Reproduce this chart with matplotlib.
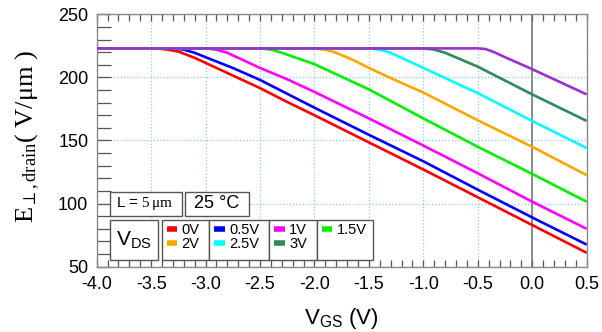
import matplotlib
matplotlib.use('Agg')
import matplotlib.pyplot as plt
from matplotlib.patches import Rectangle
from matplotlib.ticker import MultipleLocator, FormatStrFormatter

plt.rcParams['font.family'] = ['Liberation Sans', 'DejaVu Sans']
plt.rcParams['mathtext.fontset'] = 'custom'
plt.rcParams['mathtext.rm'] = 'Liberation Serif'
plt.rcParams['mathtext.it'] = 'Liberation Serif:italic'
plt.rcParams['mathtext.bf'] = 'Liberation Serif:bold'
plt.rcParams['mathtext.sf'] = 'Liberation Sans'
plt.rcParams['axes.unicode_minus'] = False

# ---------------- data ----------------
vgs_0v = [-4.0, -3.45, -3.35, -3.25, -3.1, -3.0, -2.75, -2.5, -2.25, -2.0, -1.5, -1.0, -0.5, 0.0, 0.5]
e_0v   = [223, 223, 222, 220.5, 215.5, 211.5, 201.5, 191.5, 180.5, 170, 148.5, 127, 105, 83, 61]

vgs_0p5v = [-4.0, -3.3, -3.2, -3.1, -3.0, -2.75, -2.5, -2.25, -2.0, -1.5, -1.0, -0.5, 0.0, 0.5]
e_0p5v   = [223, 223, 222, 219.5, 216, 207.5, 198, 187, 176, 154.5, 133.5, 111, 89, 67.5]

vgs_1v = [-4.0, -3.0, -2.9, -2.8, -2.65, -2.5, -2.25, -2.0, -1.5, -1.0, -0.5, 0.0, 0.5]
e_1v   = [223, 223, 222, 219.5, 213.5, 207.5, 198.5, 188.5, 167.5, 146, 124, 101.5, 80]

vgs_1p5v = [-4.0, -2.5, -2.4, -2.3, -2.15, -2.0, -1.5, -1.0, -0.5, 0.0, 0.5]
e_1p5v   = [223, 223, 222, 219.5, 215, 210.5, 190.5, 167.5, 145, 123.5, 101.5]

vgs_2v = [-4.0, -2.0, -1.9, -1.8, -1.65, -1.5, -1.25, -1.0, -0.5, 0.0, 0.5]
e_2v   = [223, 223, 222, 219.5, 214, 207.5, 197.5, 188, 166, 145, 122.5]

vgs_2p5v = [-4.0, -1.5, -1.4, -1.3, -1.15, -1.0, -0.5, 0.0, 0.5]
e_2p5v   = [223, 223, 222, 219.5, 213.5, 207.5, 187.5, 165.5, 144]

vgs_3v = [-4.0, -1.0, -0.9, -0.8, -0.65, -0.5, 0.0, 0.5]
e_3v   = [223, 223, 222, 219.5, 214, 208.5, 186.5, 165.5]

vgs_3p5v = [-4.0, -0.5, -0.43, -0.35, -0.25, 0.0, 0.5]
e_3p5v   = [223, 223, 222.5, 220, 216, 206.5, 186.5]

xs = [vgs_0v, vgs_0p5v, vgs_1v, vgs_1p5v, vgs_2v, vgs_2p5v, vgs_3v, vgs_3p5v]
series = [e_0v, e_0p5v, e_1v, e_1p5v, e_2v, e_2p5v, e_3v, e_3p5v]
labels = ['0V', '0.5V', '1V', '1.5V', '2V', '2.5V', '3V', '3.5V']
colors = ['#ff0000', '#0000ff', '#ff00ff', '#00ee00', '#ffa500', '#00ffff', '#2e8b57', '#9932cc']

xticks = [-4.0, -3.5, -3.0, -2.5, -2.0, -1.5, -1.0, -0.5, 0.0, 0.5]
yticks = [50, 100, 150, 200, 250]

# ---------------- figure ----------------
W, H = 602, 332
fig = plt.figure(figsize=(W / 100, H / 100), dpi=100)
L, R, T, B = 96.7, 586.7, 14.3, 266.7
ax = fig.add_axes([L / W, (H - B) / H, (R - L) / W, (B - T) / H])

def axx(px):
    return (px - L) / (R - L)

def axy(py):
    return (B - py) / (B - T)

lines = []
for xv, ys, lab, c in zip(xs, series, labels, colors):
    ln, = ax.plot(xv, ys, color=c, lw=1.9, label=lab, solid_capstyle='butt',
                  solid_joinstyle='round', zorder=3)
    lines.append(ln)

ax.axvline(0.0, color='#707070', lw=1.1, zorder=2)

ax.set_xlim(-4.0, 0.5)
ax.set_ylim(50, 250)
ax.set_xticks(xticks)
ax.set_yticks(yticks)
ax.xaxis.set_major_formatter(FormatStrFormatter('%.1f'))
ax.xaxis.set_minor_locator(MultipleLocator(0.1))
ax.yaxis.set_minor_locator(MultipleLocator(10))
ax.grid(True, which='major', color='#8ccbef', ls=':', lw=0.9, zorder=1)

for s in ['left', 'bottom', 'top', 'right']:
    ax.spines[s].set_color('#8a8a8a')
    ax.spines[s].set_linewidth(1.0)

ax.tick_params(axis='x', which='both', direction='in', top=True, bottom=True,
               length=5, width=0.9, color='#555555', labelsize=13, pad=7)
ax.tick_params(axis='y', which='both', direction='in', left=True, right=False,
               length=10, width=0.9, color='#555555', labelsize=13, pad=6)

ax.set_xlabel(r'$\mathsf{V_{GS}}$ (V)', fontsize=16)
ax.xaxis.set_label_coords(0.5, axy(306))
ax.set_ylabel(r'$\mathrm{E}_{\perp,\mathrm{drain}}$( V/μm )', fontsize=19,
              family=['Liberation Serif', 'DejaVu Serif'])
ax.yaxis.set_label_coords(axx(42), axy(136.5))

# ---------------- annotation boxes ----------------
def box(x0, y0, x1, y1):
    r = Rectangle((axx(x0), axy(y1)), axx(x1) - axx(x0), axy(y0) - axy(y1),
                  transform=ax.transAxes, facecolor='white', edgecolor='#555555',
                  lw=1.0, zorder=5)
    ax.add_patch(r)

box(110, 191.7, 181.7, 216)
box(185, 191.7, 249, 216)
box(110, 220, 158.3, 260)
box(161.7, 220, 209, 260)
box(209, 220, 269.3, 260)
box(269.3, 220, 316.7, 260)
box(316.7, 220, 373.3, 260)

ax.text(axx(115.7), axy(203.8), r'L = $\mathrm{5\,μm}$', fontsize=11,
        ha='left', va='center', zorder=6, transform=ax.transAxes)
ax.text(axx(217), axy(203.8), '25 °C', fontsize=13,
        ha='center', va='center', zorder=6, transform=ax.transAxes)
ax.text(axx(134.2), axy(240), r'$\mathsf{V_{DS}}$', fontsize=15,
        ha='center', va='center', zorder=6, transform=ax.transAxes)

order = [0, 4, 1, 5, 2, 6, 3]
leg = ax.legend([lines[i] for i in order], [labels[i] for i in order],
                ncol=4, loc='upper left', bbox_to_anchor=(axx(166.7), axy(223.3)),
                frameon=False, fontsize=10.5, borderpad=0, borderaxespad=0,
                handlelength=0.73, handletextpad=0.3, columnspacing=1.0,
                labelspacing=0.0)
leg.set_zorder(7)
for h in leg.legend_handles:
    h.set_linewidth(4)

fig.savefig('out.png', dpi=100)
